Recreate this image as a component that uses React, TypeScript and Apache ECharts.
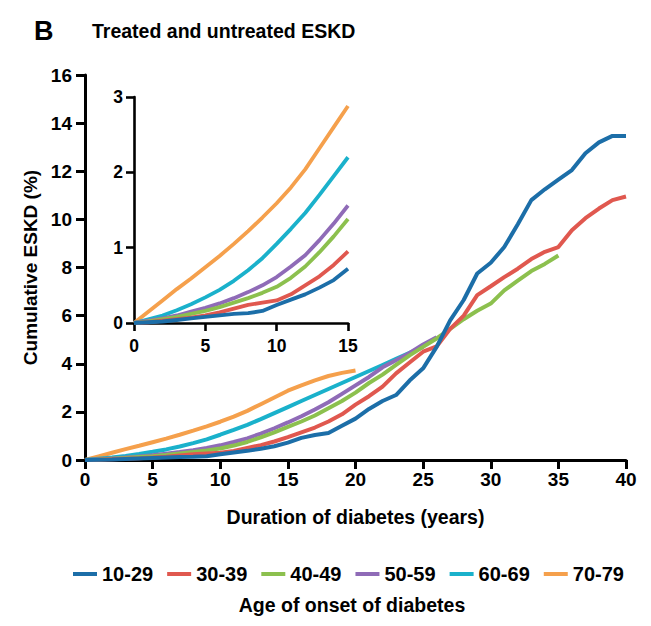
import { useEffect, useRef } from "react";
import * as echarts from "echarts";

const years = [0, 1, 2, 3, 4, 5, 6, 7, 8, 9, 10, 11, 12, 13, 14, 15, 16, 17, 18, 19, 20, 21, 22, 23, 24, 25, 26, 27, 28, 29, 30, 31, 32, 33, 34, 35, 36, 37, 38, 39, 40];

const groups = ["10-29", "30-39", "40-49", "50-59", "60-69", "70-79"];
const colors = ["#1c6ea8", "#e0584f", "#8cc04e", "#8f6bb7", "#1ab1cb", "#f5a04c"];

const v10_29 = [0, 0.01, 0.02, 0.04, 0.06, 0.08, 0.1, 0.12, 0.13, 0.16, 0.24, 0.31, 0.38, 0.47, 0.57, 0.72, 0.92, 1.04, 1.12, 1.42, 1.72, 2.12, 2.45, 2.7, 3.3, 3.81, 4.7, 5.8, 6.65, 7.75, 8.2, 8.85, 9.8, 10.8, 11.25, 11.65, 12.05, 12.75, 13.2, 13.47, 13.47];
const v30_39 = [0, 0.01, 0.03, 0.05, 0.07, 0.1, 0.14, 0.19, 0.24, 0.27, 0.3, 0.38, 0.5, 0.62, 0.77, 0.95, 1.15, 1.35, 1.6, 1.9, 2.3, 2.65, 3.05, 3.6, 4.05, 4.5, 4.72, 5.45, 6.0, 6.85, 7.22, 7.6, 7.95, 8.35, 8.65, 8.85, 9.55, 10.05, 10.45, 10.8, 10.95];
const v40_49 = [0, 0.02, 0.05, 0.08, 0.12, 0.16, 0.21, 0.27, 0.33, 0.4, 0.48, 0.6, 0.75, 0.94, 1.15, 1.38, 1.6, 1.85, 2.15, 2.45, 2.8, 3.2, 3.55, 3.95, 4.35, 4.7, 5.05, 5.45, 5.85, 6.2, 6.5, 7.05, 7.45, 7.85, 8.15, 8.5];
const v50_59 = [0, 0.03, 0.06, 0.1, 0.15, 0.2, 0.26, 0.33, 0.41, 0.5, 0.61, 0.75, 0.9, 1.1, 1.32, 1.56, 1.82, 2.1, 2.4, 2.75, 3.1, 3.45, 3.85, 4.15, 4.45, 4.8, 5.1];
const v60_69 = [0, 0.05, 0.1, 0.17, 0.25, 0.34, 0.44, 0.56, 0.7, 0.86, 1.05, 1.25, 1.46, 1.7, 1.95, 2.2, 2.45, 2.7, 2.95, 3.2, 3.45, 3.7, 3.95, 4.2, 4.45, 4.7];
const v70_79 = [0, 0.15, 0.3, 0.45, 0.59, 0.74, 0.89, 1.05, 1.22, 1.4, 1.59, 1.8, 2.04, 2.32, 2.6, 2.88, 3.1, 3.31, 3.49, 3.62, 3.72];

const seriesValues = [v10_29, v30_39, v40_49, v50_59, v60_69, v70_79];
const insetMaxYear = 15;

const FONT = "'Liberation Sans', Arial, Helvetica, sans-serif";

export default function App() {
  const ref = useRef<HTMLDivElement>(null);

  useEffect(() => {
    if (!ref.current) return;
    const chart = echarts.init(ref.current, null, { renderer: "svg" });

    const axisBase = (lw: number, tickLen: number, fontSize: number, margin: number) => ({
      axisLine: { show: true, onZero: false, lineStyle: { color: "#000", width: lw } },
      axisTick: { show: true, length: tickLen, lineStyle: { color: "#000", width: lw } },
      axisLabel: { color: "#000", fontWeight: "bold", fontSize, fontFamily: FONT, margin },
      splitLine: { show: false },
    });

    const series: any[] = [];
    for (let i = groups.length - 1; i >= 0; i--) {
      const vals = seriesValues[i];
      const pts = vals.map((v, k) => [years[k], v]);
      series.push({
        name: groups[i],
        type: "line",
        xAxisIndex: 0,
        yAxisIndex: 0,
        data: pts,
        showSymbol: false,
        symbol: "none",
        color: colors[i],
        lineStyle: { width: 4, color: colors[i] },
      });
      series.push({
        name: groups[i],
        type: "line",
        xAxisIndex: 1,
        yAxisIndex: 1,
        data: pts.filter((p) => p[0] <= insetMaxYear),
        showSymbol: false,
        symbol: "none",
        color: colors[i],
        lineStyle: { width: 3.8, color: colors[i] },
      });
    }

    chart.setOption({
      animation: false,
      backgroundColor: "#fff",
      grid: [
        { left: 85, top: 75, width: 541, height: 385 },
        { left: 134, top: 97, width: 214, height: 226 },
      ],
      xAxis: [
        {
          type: "value",
          gridIndex: 0,
          min: 0,
          max: 40,
          interval: 5,
          name: "Duration of diabetes (years)",
          nameLocation: "middle",
          nameGap: 47,
          nameTextStyle: { color: "#000", fontWeight: "bold", fontSize: 19.5, fontFamily: FONT },
          ...axisBase(3, 9, 19, 10),
        },
        {
          type: "value",
          gridIndex: 1,
          min: 0,
          max: 15,
          interval: 5,
          ...axisBase(2.6, 8, 17.5, 14),
        },
      ],
      yAxis: [
        {
          type: "value",
          gridIndex: 0,
          min: 0,
          max: 16,
          interval: 2,
          name: "Cumulative ESKD (%)",
          nameLocation: "middle",
          nameGap: 33,
          nameTextStyle: { color: "#000", fontWeight: "bold", fontSize: 19, fontFamily: FONT },
          ...axisBase(3, 9, 19, 13),
        },
        {
          type: "value",
          gridIndex: 1,
          min: 0,
          max: 3,
          interval: 1,
          ...axisBase(2.6, 8, 17.5, 11),
        },
      ],
      legend: {
        data: groups,
        left: 68,
        top: 559,
        icon: "rect",
        itemWidth: 24,
        itemHeight: 4,
        itemGap: 14,
        textStyle: { color: "#000", fontWeight: "bold", fontSize: 20, fontFamily: FONT },
      },
      graphic: [
        {
          type: "text",
          left: 34,
          top: 17,
          style: { text: "B", fill: "#000", font: `bold 27px ${FONT}` },
        },
        {
          type: "text",
          x: 92,
          y: 31,
          style: {
            text: "Treated and untreated ESKD",
            fill: "#000",
            font: `bold 19.5px ${FONT}`,
            textVerticalAlign: "middle",
          },
        },
        {
          type: "text",
          x: 352,
          y: 605,
          style: {
            text: "Age of onset of diabetes",
            fill: "#000",
            font: `bold 19.5px ${FONT}`,
            textAlign: "center",
            textVerticalAlign: "middle",
          },
        },
      ],
      series,
    });

    return () => chart.dispose();
  }, []);

  return (
    <div
      ref={ref}
      style={{ position: "fixed", left: 0, top: 0, width: 651, height: 626 }}
    />
  );
}
